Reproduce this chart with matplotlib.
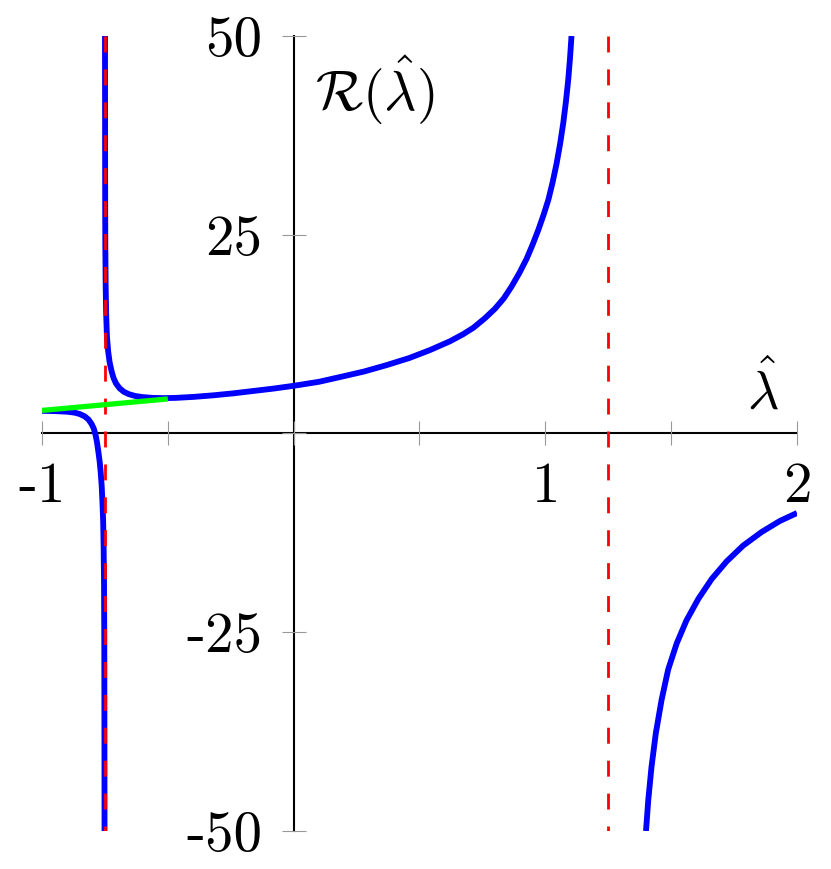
import numpy as np
import matplotlib
matplotlib.use('Agg')
import matplotlib.pyplot as plt

plt.rcParams['mathtext.fontset'] = 'cm'
plt.rcParams['lines.scale_dashes'] = False

# blue curve, branch right of the first pole
mid_x = [-0.7497, -0.7494, -0.749, -0.7485, -0.747, -0.745, -0.742, -0.737, -0.731,
         -0.724, -0.716, -0.706, -0.692, -0.675, -0.655, -0.63, -0.60, -0.56, -0.52,
         -0.47, -0.40, -0.32, -0.24, -0.16, -0.08, 0.0, 0.1, 0.184, 0.28, 0.369, 0.46,
         0.542, 0.621, 0.674, 0.714, 0.76, 0.80, 0.835, 0.866, 0.897, 0.926, 0.95,
         0.972, 0.993, 1.012, 1.029, 1.045, 1.059, 1.071, 1.082, 1.091, 1.098, 1.104]
mid_y = [50, 40, 30, 24, 18.5, 15, 12.2, 10.3, 8.9, 7.9, 7.0, 6.3, 5.7, 5.25, 4.95,
         4.72, 4.58, 4.48, 4.45, 4.48, 4.6, 4.8, 5.05, 5.35, 5.65, 6.0, 6.5, 7.1, 7.8,
         8.6, 9.5, 10.5, 11.6, 12.5, 13.3, 14.5, 15.7, 17.0, 18.5, 20.2, 22.0, 23.8,
         25.6, 27.5, 29.4, 31.6, 34.0, 36.5, 39.0, 41.8, 44.5, 47.2, 50]

# blue curve, left branch
left_x = [-1.0, -0.95, -0.9, -0.87, -0.85, -0.83, -0.815, -0.803, -0.794, -0.787,
          -0.781, -0.776, -0.771, -0.767, -0.763, -0.760, -0.757, -0.755, -0.7535,
          -0.7525, -0.752, -0.7515]
left_y = [2.85, 2.82, 2.74, 2.62, 2.45, 2.15, 1.75, 1.2, 0.6, -0.2, -1.2, -2.3, -3.5,
          -4.8, -6.5, -8.5, -11, -14.5, -19, -26, -36, -50]

# blue curve, right branch
right_x = [1.400, 1.409, 1.422, 1.439, 1.462, 1.488, 1.522, 1.561, 1.608, 1.661,
           1.720, 1.786, 1.859, 1.932, 2.0]
right_y = [-50, -46.1, -41.9, -37.7, -33.5, -29.7, -26.4, -23.5, -20.8, -18.3,
           -16.1, -14.1, -12.4, -11.0, -10.0]

# green approximation
green_x = [-1.0, -0.5]
green_y = [2.9, 4.35]

# asymptotes
poles = [-0.75, 1.25]

xticks = [-1, -0.5, 0, 0.5, 1, 1.5, 2]
xticklabels = ['-1', '', '', '', '1', '', '2']
yticks = [-50, -25, 0, 25, 50]
yticklabels = ['-50', '-25', '', '25', '50']

fig = plt.figure(figsize=(8.31, 8.69), dpi=100)
ax = fig.add_axes([42/831, 1 - 831/869, 755/831, 795/869])
ax.set_xlim(-1, 2)
ax.set_ylim(-50, 50)

blue = '#0000ff'
for xs, ys in [(mid_x, mid_y), (left_x, left_y), (right_x, right_y)]:
    ax.plot(xs, ys, color=blue, lw=4.2, zorder=2, solid_capstyle='butt',
            solid_joinstyle='round')
for p in poles:
    ax.plot([p, p], [50, -50], color='#ff0000', lw=2.0, dashes=(11.5, 12.2), zorder=3)
ax.plot(green_x, green_y, color='#00ff00', lw=3.8, zorder=4, solid_capstyle='butt')

for s in ['top', 'right']:
    ax.spines[s].set_visible(False)
ax.spines['left'].set_position(('data', 0))
ax.spines['bottom'].set_position(('data', 0))
for s in ['left', 'bottom']:
    ax.spines[s].set_linewidth(1.5)
    ax.spines[s].set_zorder(1)

ax.set_xticks(xticks)
ax.set_xticklabels(xticklabels, fontfamily='cmr10', fontsize=41)
ax.set_yticks(yticks)
ax.set_yticklabels(yticklabels, fontfamily='cmr10', fontsize=41)
ax.tick_params(direction='inout', length=17, width=0.8, color='#999999')
ax.tick_params(axis='x', pad=12)
ax.tick_params(axis='y', pad=14)

ax.text(0.085, 43.2, r'$\mathcal{R}(\hat{\lambda})$', fontsize=40, ha='left', va='center')
ax.text(1.863, 5.35, r'$\hat{\lambda}$', fontsize=39, ha='center', va='center')

fig.savefig('out.png', dpi=100)
